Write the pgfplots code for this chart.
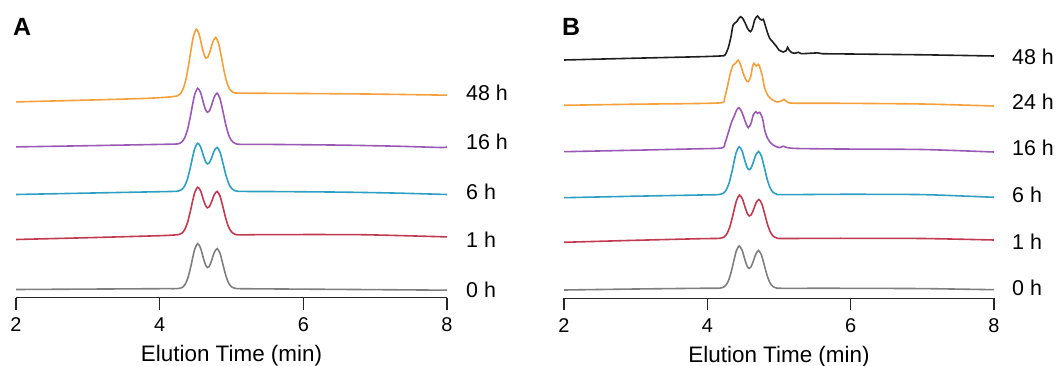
\documentclass[border=0pt]{standalone}
\usepackage{pgfplots}
\pgfplotsset{compat=1.18}
\usepackage{fontspec}
\setmainfont{Liberation Sans}
\definecolor{cgray}{HTML}{7F7F7F}
\definecolor{cred}{HTML}{C23A50}
\definecolor{cblue}{HTML}{2C9FC2}
\definecolor{cpurple}{HTML}{9B59B6}
\definecolor{corange}{HTML}{F5A03A}
\definecolor{cblack}{HTML}{1E1E1E}
\begin{document}
\begin{tikzpicture}
\pgfplotsset{
  chrom/.style={
    scale only axis, height=290bp,
    xmin=2, xmax=8, ymin=0, ymax=290,
    axis x line*=bottom, axis y line=none,
    xtick={2,4,6,8}, tick align=outside, major tick length=12bp,
    axis line style={line width=1.3bp, black!85},
    tick style={line width=1.3bp, black!85},
    /pgf/number format/assume math mode=true,
    xticklabel style={font=\fontsize{20}{24}\selectfont, inner sep=0pt, anchor=north, yshift=-8bp},
    xlabel={Elution Time (min)},
    xlabel style={font=\fontsize{22.5}{27}\selectfont, at={(axis description cs:0.5,0)}, anchor=base, inner sep=0pt, yshift=-64bp},
    every axis plot/.append style={line width=1.6bp, smooth, tension=0.4},
  }
}
% ---------------- Panel A ----------------
\begin{axis}[chrom, width=431bp, at={(16bp,68.3bp)}, anchor=south west]
\addplot[cgray] table {
2.0 8.2
3.0 8.6
4.0 9.0
4.20 9.0
4.26 9.2
4.31 10.1
4.35 12.8
4.39 19.1
4.43 30.0
4.46 40.0
4.49 48.9
4.53 54.1
4.57 49.5
4.61 39.2
4.64 32.6
4.665 30.2
4.69 31.3
4.72 36.5
4.76 45.2
4.80 49.2
4.84 44.5
4.88 33.6
4.92 22.4
4.96 14.7
5.00 10.9
5.05 9.4
5.12 9.0
5.5 8.8
6.5 8.3
7.3 7.9
8.0 7.5
};
\addplot[cred] table {
2.0 58.2
3.0 60.0
4.0 62.0
4.20 62.7
4.26 63.1
4.31 64.6
4.35 68.3
4.39 75.7
4.43 87.3
4.46 97.1
4.49 105.5
4.53 110.5
4.57 106.8
4.61 97.8
4.64 92.0
4.665 89.9
4.69 90.9
4.72 95.4
4.76 103.0
4.80 106.3
4.84 101.7
4.88 91.0
4.92 79.4
4.96 70.7
5.00 65.8
5.05 63.4
5.12 62.8
5.5 63.1
6.8 63.0
8.0 60.8
};
\addplot[cblue] table {
2.0 103.2
3.0 104.6
4.0 106.0
4.20 106.3
4.26 106.7
4.31 108.3
4.35 112.0
4.39 119.4
4.43 131.1
4.46 141.0
4.49 149.5
4.53 154.5
4.57 150.8
4.61 141.7
4.64 135.9
4.665 133.7
4.69 134.8
4.72 139.3
4.76 147.0
4.80 150.3
4.84 145.6
4.88 134.8
4.92 123.2
4.96 114.3
5.00 109.4
5.05 107.0
5.12 106.3
5.5 106.2
6.5 105.6
7.3 104.6
8.0 103.2
};
\addplot[cpurple] table {
2.0 150.8
3.0 152.0
4.0 153.3
4.20 153.6
4.26 153.9
4.31 155.8
4.35 160.1
4.39 168.7
4.43 182.2
4.46 193.8
4.49 203.7
4.53 209.5
4.57 205.1
4.61 194.6
4.64 187.8
4.665 185.4
4.69 186.5
4.72 191.8
4.76 200.7
4.80 204.5
4.84 199.1
4.88 186.6
4.92 173.1
4.96 162.8
5.00 157.1
5.05 154.3
5.12 153.4
5.5 153.3
6.5 152.6
7.3 151.5
7.95 150.2
8.0 152.0
};
\addplot[corange] table {
2.0 195.8
3.0 197.6
3.8 199.3
4.1 200.5
4.18 201.1
4.24 201.7
4.29 204.1
4.33 209.4
4.37 219.7
4.41 235.9
4.44 249.6
4.47 261.4
4.51 268.5
4.55 263.2
4.59 250.8
4.62 242.6
4.645 239.5
4.67 240.4
4.70 246.0
4.74 255.9
4.78 260.3
4.82 254.4
4.86 240.6
4.90 225.5
4.94 214.3
4.98 208.0
5.03 205.1
5.10 204.6
5.5 204.4
6.0 204.2
7.0 203.6
8.0 202.5
};
\end{axis}
% ---------------- Panel B ----------------
\begin{axis}[chrom, width=430bp, at={(564bp,67.8bp)}, anchor=south west]
\addplot[cgray] table {
2.0 8.2
3.0 9.2
3.9 9.9
4.115 9.9
4.175 10.1
4.225 11.0
4.265 13.5
4.305 19.4
4.345 29.7
4.375 39.0
4.405 47.4
4.445 52.3
4.485 48.0
4.525 38.3
4.555 32.1
4.58 29.8
4.605 30.9
4.635 35.7
4.675 43.9
4.715 47.7
4.755 43.2
4.795 33.0
4.835 22.5
4.875 15.3
4.915 11.7
4.965 10.2
5.035 9.9
5.85 9.9
7.0 9.6
8.0 8.5
};
\addplot[cred] table {
2.0 55.9
3.0 57.9
3.9 59.5
4.12 59.7
4.18 60.0
4.23 61.1
4.27 64.1
4.31 70.5
4.35 81.0
4.38 90.2
4.41 98.3
4.45 103.1
4.49 99.2
4.53 90.2
4.56 84.4
4.585 82.3
4.61 83.2
4.64 87.7
4.68 95.4
4.72 98.8
4.76 94.5
4.80 84.4
4.84 73.7
4.88 66.1
4.92 62.0
4.97 60.2
5.04 59.7
5.85 59.9
7.0 59.7
8.0 58.2
};
\addplot[cblue] table {
2.0 100.5
3.0 102.0
3.9 103.2
4.115 103.5
4.175 103.8
4.225 105.1
4.265 108.4
4.305 115.5
4.345 127.0
4.375 137.2
4.405 146.2
4.445 151.5
4.485 147.2
4.525 137.2
4.555 130.8
4.58 128.5
4.605 129.6
4.635 134.5
4.675 143.0
4.715 146.8
4.755 142.0
4.795 130.8
4.835 119.0
4.875 110.6
4.915 106.1
4.965 104.1
5.035 103.5
5.85 103.9
7.0 103.6
8.0 100.9
};
\addplot[cpurple] table {
2.0 146.5
3.0 148.0
3.8 149.3
4.20 150.2
4.246 154.9
4.29 164.9
4.34 176.5
4.376 182.2
4.41 188.2
4.44 190.5
4.48 186.5
4.53 176.5
4.57 170.5
4.61 174.9
4.64 183.2
4.675 186.5
4.70 184.9
4.73 185.9
4.77 179.9
4.80 168.2
4.84 159.9
4.89 154.9
4.94 152.2
5.01 150.6
5.06 152.0
5.11 150.6
5.25 149.7
5.85 149.2
7.0 148.7
8.0 146.2
};
\addplot[corange] table {
2.0 192.9
3.0 194.0
3.76 194.6
4.20 195.5
4.24 199.9
4.28 211.5
4.32 224.9
4.36 233.2
4.395 234.9
4.43 238.2
4.465 233.2
4.50 224.9
4.54 218.2
4.57 216.5
4.605 221.5
4.63 231.5
4.65 234.9
4.68 232.2
4.71 233.9
4.73 231.5
4.77 221.5
4.80 209.9
4.85 202.2
4.91 198.2
4.98 196.2
5.04 197.5
5.07 198.9
5.11 196.5
5.20 195.0
5.85 194.9
7.0 194.2
8.0 192.2
};
\addplot[cblack] table {
2.0 238.2
3.0 240.0
3.9 241.5
4.20 242.3
4.246 243.2
4.29 249.9
4.33 261.5
4.36 273.2
4.41 276.5
4.44 279.9
4.465 281.5
4.49 280.2
4.53 274.9
4.56 269.9
4.60 266.5
4.63 269.9
4.66 278.2
4.70 282.2
4.73 279.5
4.755 278.2
4.78 278.9
4.80 274.9
4.835 266.5
4.87 259.9
4.91 256.5
4.96 252.2
5.00 248.2
5.06 246.2
5.10 247.5
5.12 250.9
5.14 248.2
5.18 245.5
5.22 244.9
5.27 245.9
5.31 244.5
5.54 245.3
5.6 244.5
5.85 244.3
7.0 243.4
8.0 242.2
};
\end{axis}
% ---------------- labels ----------------
\begin{scope}[every node/.style={inner sep=0pt, font=\fontsize{21.5}{26}\selectfont}]
\node[anchor=center, font=\fontsize{25}{30}\selectfont\bfseries] at (22bp,339bp) {A};
\node[anchor=center, font=\fontsize{25}{30}\selectfont\bfseries] at (571bp,339bp) {B};
\node[anchor=west] at (466bp,273bp) {48 h};
\node[anchor=west] at (466bp,224bp) {16 h};
\node[anchor=west] at (466bp,174bp) {6 h};
\node[anchor=west] at (466bp,126bp) {1 h};
\node[anchor=west] at (466bp,76bp) {0 h};
\node[anchor=west] at (1012bp,309bp) {48 h};
\node[anchor=west] at (1012bp,264bp) {24 h};
\node[anchor=west] at (1012bp,218bp) {16 h};
\node[anchor=west] at (1012bp,171bp) {6 h};
\node[anchor=west] at (1012bp,124bp) {1 h};
\node[anchor=west] at (1012bp,78bp) {0 h};
\end{scope}
\pgfresetboundingbox
\path[use as bounding box] (0bp,0bp) rectangle (1060bp,366bp);
\end{tikzpicture}
\end{document}
